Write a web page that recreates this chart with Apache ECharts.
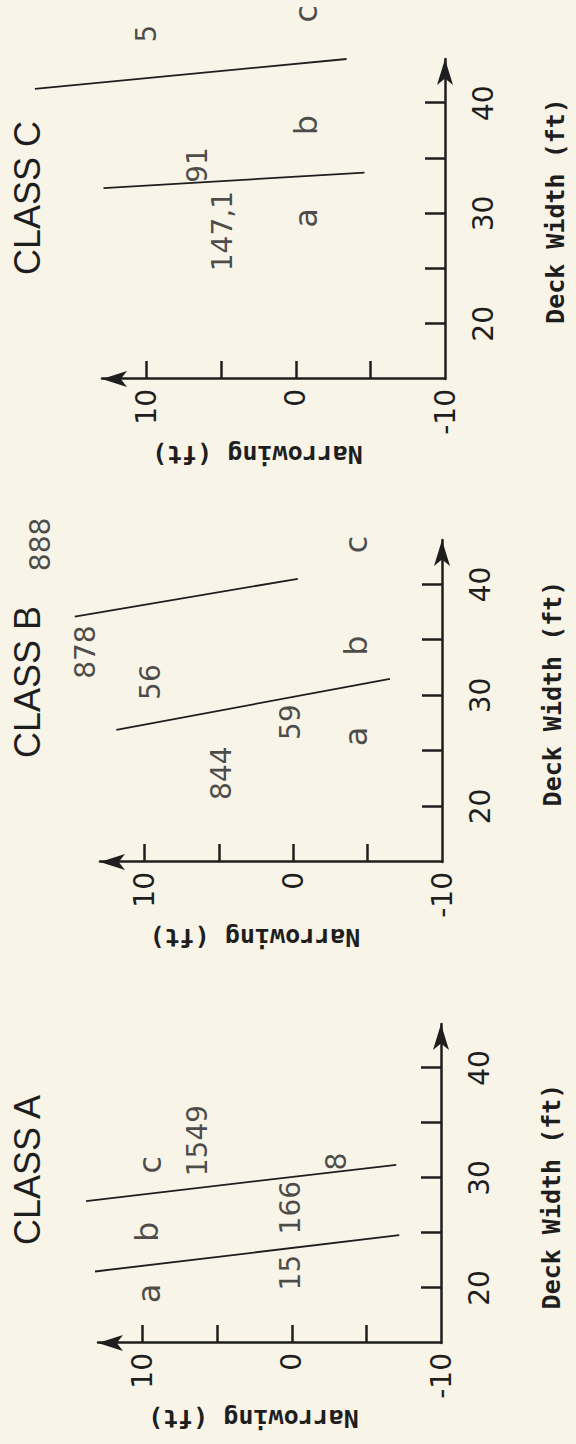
<!DOCTYPE html>
<html><head><meta charset="utf-8">
<script src="https://cdn.jsdelivr.net/npm/echarts@6/dist/echarts.min.js"></script>
<style>
html,body{margin:0;padding:0;width:576px;height:1444px;overflow:hidden;background:#f8f4e8;}
#chart{position:absolute;left:0;top:0;width:1444px;height:576px;transform-origin:0 0;transform:translateY(1444px) rotate(-90deg);}
</style></head><body><div id="chart"></div>
<script>
// ---- data ----
const deckTicks = [20, 25, 30, 35, 40];
const deckTickLabels = [20, 30, 40];
const narrowTicks = [-5, 0, 5, 10];
const narrowTickLabels = [-10, 0, 10];
const panelTitles = ['CLASS A', 'CLASS B', 'CLASS C'];
const xName = 'Deck Width (ft)';
const yName = 'Narrowing (ft)';

// boundary lines: [deck width, narrowing]
const classA_lineAB = [[21.5, 13.2], [24.8, -7.2]];
const classA_lineBC = [[27.9, 13.8], [31.2, -7.0]];
const classB_lineAB = [[26.9, 11.9], [31.5, -6.5]];
const classB_lineBC = [[37.1, 14.7], [40.5, -0.3]];
const classC_lineAB = [[32.3, 12.9], [33.7, -4.6]];
const classC_lineBC = [[41.3, 17.5], [44.0, -3.4]];

// region letters: [deck width, narrowing, text]
const classA_letters = [[19.5, 9.6, 'a'], [25.1, 9.7, 'b'], [31.2, 9.5, 'c']];
const classB_letters = [[26.3, -4.2, 'a'], [34.5, -4.2, 'b'], [43.6, -4.2, 'c']];
const classC_letters = [[29.6, -0.7, 'a'], [38.0, -0.7, 'b'], [48.1, -0.7, 'c']];
// counts: [deck width, narrowing, text]
const classA_counts = [[21.4, 0.1, '15'], [27.3, 0.1, '166'], [33.4, 6.3, '1549'], [31.5, -3.0, '8']];
const classB_counts = [[23.0, 4.8, '844'], [27.6, 0.2, '59'], [31.2, 9.6, '56'], [33.9, 14.0, '878'], [43.6, 17.0, '888']];
const classC_counts = [[28.4, 4.9, '147,1'], [34.4, 6.6, '91'], [46.3, 10.0, '5']];

// ---- layout ----
const INK = '#1e1e1e';
const grids = [
  {left: 101, top: 98, width: 319, height: 343},
  {left: 582, top: 100, width: 322, height: 342},
  {left: 1065, top: 102, width: 320, height: 343}
];
const titleLeft = [194, 681, 1164];
const xNamePad = [[0, 26, 0, 0], [0, 0, 0, 15], [0, 0, 0, 16]];
const lines = [[classA_lineAB, classA_lineBC], [classB_lineAB, classB_lineBC], [classC_lineAB, classC_lineBC]];
const letters = [classA_letters, classB_letters, classC_letters];
const counts = [classA_counts, classB_counts, classC_counts];

const option = {
  animation: false,
  backgroundColor: '#f8f4e8',
  title: panelTitles.map((t, i) => ({
    text: t, left: titleLeft[i], top: 4,
    textStyle: {fontFamily: 'Liberation Sans', fontSize: 36, fontWeight: 'normal', color: INK}
  })),
  grid: grids,
  xAxis: grids.map((g, i) => ({
    type: 'value', gridIndex: i, min: 15, max: 44,
    name: xName, nameLocation: 'middle', nameGap: 98,
    nameTextStyle: {fontFamily: 'DejaVu Sans Mono', fontWeight: 'bold', fontSize: 25, color: INK, padding: xNamePad[i]},
    splitLine: {show: false},
    axisLine: {onZero: false, lineStyle: {color: INK, width: 2.5}, symbol: ['none', 'arrow'], symbolSize: [12, 26]},
    axisTick: {inside: true, length: 20, lineStyle: {color: INK, width: 2.5}, customValues: deckTicks},
    axisLabel: {customValues: deckTickLabels, margin: 24, fontFamily: 'DejaVu Sans', fontSize: 28, color: INK}
  })),
  yAxis: grids.map((g, i) => ({
    type: 'value', gridIndex: i, min: -10, max: 13,
    name: yName, nameLocation: 'middle', nameGap: 63,
    nameTextStyle: {fontFamily: 'DejaVu Sans Mono', fontWeight: 'bold', fontSize: 25, color: INK, padding: [0, 0, 0, 32]},
    splitLine: {show: false},
    axisLine: {onZero: false, lineStyle: {color: INK, width: 2.5}, symbol: ['none', 'arrow'], symbolSize: [12, 25]},
    axisTick: {inside: true, length: 18, lineStyle: {color: INK, width: 2.5}, customValues: narrowTicks},
    axisLabel: {customValues: narrowTickLabels, margin: 10, fontFamily: 'DejaVu Sans', fontSize: 28, color: INK}
  })),
  series: []
};

lines.forEach((pair, i) => {
  pair.forEach(seg => {
    option.series.push({
      type: 'line', xAxisIndex: i, yAxisIndex: i, data: seg, clip: false,
      showSymbol: false, silent: true, lineStyle: {color: INK, width: 1.8}
    });
  });
});
function textSeries(arr, i, size) {
  return {
    type: 'scatter', xAxisIndex: i, yAxisIndex: i, data: arr, clip: false, silent: true,
    symbolSize: 1, itemStyle: {color: 'transparent'},
    label: {show: true, position: 'inside', formatter: p => p.data[2],
      fontFamily: 'DejaVu Sans', fontSize: size, color: INK}
  };
}
letters.forEach((arr, i) => option.series.push(textSeries(arr, i, 32)));
counts.forEach((arr, i) => option.series.push(textSeries(arr, i, 28)));

const chart = echarts.init(document.getElementById('chart'), null, {renderer: 'svg', width: 1444, height: 576});
chart.setOption(option);
</script></body></html>
